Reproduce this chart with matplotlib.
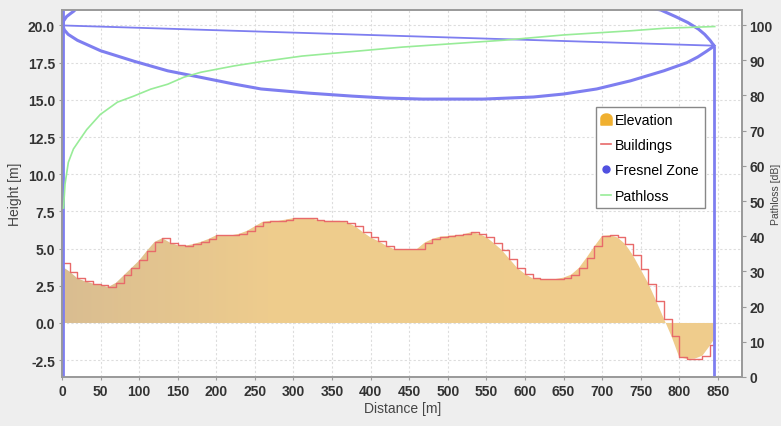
import matplotlib
matplotlib.use("Agg")
import matplotlib.pyplot as plt
import numpy as np
from matplotlib.colors import LinearSegmentedColormap
from matplotlib.lines import Line2D
from matplotlib.path import Path

plt.rcParams["font.family"] = ["Liberation Sans", "DejaVu Sans"]

# Terrain profile along the link, one sample every 10 m plus the far end
distance = list(range(0, 850, 10)) + [845]
elevation = [
    3.8, 3.45, 3.0, 2.8, 2.65, 2.55, 2.42, 2.7, 3.2, 3.7,
    4.2, 4.85, 5.45, 5.7, 5.4, 5.22, 5.2, 5.3, 5.45, 5.65,
    5.9, 5.9, 5.9, 6.0, 6.2, 6.5, 6.8, 6.87, 6.87, 6.95,
    7.05, 7.05, 7.05, 6.95, 6.87, 6.87, 6.87, 6.75, 6.5, 6.1,
    5.75, 5.5, 5.2, 4.97, 4.97, 4.97, 4.97, 5.4, 5.65, 5.8,
    5.85, 5.9, 5.95, 6.1, 6.0, 5.77, 5.35, 4.9, 4.3, 3.7,
    3.3, 3.0, 2.96, 2.96, 2.96, 3.05, 3.25, 3.7, 4.4, 5.15,
    5.85, 5.9, 5.75, 5.3, 4.55, 3.6, 2.65, 1.5, 0.3, -0.9,
    -2.3, -2.42, -2.4, -2.2, -1.5, -1.1,
]
buildings = [
    4.0, 3.45, 3.0, 2.8, 2.65, 2.55, 2.42, 2.7, 3.2, 3.7,
    4.2, 4.85, 5.45, 5.7, 5.4, 5.22, 5.2, 5.3, 5.45, 5.65,
    5.9, 5.9, 5.9, 6.0, 6.2, 6.5, 6.8, 6.87, 6.87, 6.95,
    7.05, 7.05, 7.05, 6.95, 6.87, 6.87, 6.87, 6.75, 6.5, 6.1,
    5.75, 5.5, 5.2, 4.97, 4.97, 4.97, 4.97, 5.4, 5.65, 5.8,
    5.85, 5.9, 5.95, 6.1, 6.0, 5.77, 5.35, 4.9, 4.3, 3.7,
    3.3, 3.0, 2.96, 2.96, 2.96, 3.05, 3.25, 3.7, 4.4, 5.15,
    5.85, 5.9, 5.75, 5.3, 4.55, 3.6, 2.65, 1.5, 0.3, -0.9,
    -2.3, -2.42, -2.4, -2.2, -1.5, -1.1,
]

# Antenna positions (distance, height)
tx_d, tx_h = 1, 20.0
rx_d, rx_h = 845, 18.64

# First Fresnel zone outline
fresnel_lower_d = [1, 3, 8, 20, 50, 93, 137, 180, 223, 258, 320, 376, 420,
                   467, 546, 611, 650, 693, 737, 780, 810, 824, 835, 842, 845]
fresnel_lower_h = [20.0, 19.7, 19.4, 19.0, 18.3, 17.6, 16.95, 16.51, 16.06,
                   15.73, 15.45, 15.25, 15.12, 15.05, 15.05, 15.19, 15.39,
                   15.73, 16.28, 16.95, 17.5, 17.88, 18.25, 18.5, 18.64]
fresnel_upper_tx_d = [1, 2, 6, 11, 15, 20]
fresnel_upper_tx_h = [20.0, 20.3, 20.6, 20.8, 20.95, 21.2]
fresnel_upper_rx_d = [760, 776, 795, 811, 825, 833, 840, 845]
fresnel_upper_rx_h = [21.2, 21.04, 20.6, 20.2, 19.75, 19.4, 19.0, 18.64]

# Path loss along the link [dB]
pathloss_d = [2, 3.9, 8.2, 14.8, 23.5, 32, 49.6, 71.8, 92.7, 115, 137, 158,
              180, 223, 255, 311, 441, 572, 650, 738, 781, 846]
pathloss_db = [48, 54.8, 61, 64.8, 67.6, 70.3, 74.6, 78.1, 79.8, 81.8, 83.2,
               85.2, 86.6, 88.4, 89.5, 91.2, 93.75, 95.7, 97.2, 98.4, 99.1, 99.6]

RED = "#e86a6a"
BLUE = "#7e7ef0"
GREEN = "#98ec98"
SPINE = "#999999"
X_MAX = 882
Y_MIN, Y_MAX = -3.63, 21.04

# terrain fill shades from tan near the transmitter to light orange
fill_cmap = LinearSegmentedColormap.from_list(
    "terrain_fill", [(0.0, "#d9bd91"), (0.3, "#eecc8d"), (1.0, "#f0cd8c")])


def bell_marker():
    # rounded-top block used as the area legend symbol
    t = np.linspace(0, np.pi, 12)
    top = np.column_stack([np.cos(t), 0.2 + np.sin(t) * 0.8])
    verts = np.vstack([[[1, -1]], top, [[-1, -1]], [[1, -1]]])
    codes = [Path.MOVETO] + [Path.LINETO] * (len(verts) - 2) + [Path.CLOSEPOLY]
    return Path(verts, codes)


fig = plt.figure(figsize=(7.81, 4.27), dpi=100, facecolor="#eeeeee")
ax = fig.add_axes([0.0794, 0.1148, 0.8713, 0.8595])
ax.set_facecolor("white")

area = ax.fill_between(distance, 0, elevation, facecolor="none", linewidth=0)
shade = ax.imshow(np.linspace(0, 1, 256)[None, :], cmap=fill_cmap,
                  extent=[0, X_MAX, Y_MIN, Y_MAX], aspect="auto", zorder=2)
shade.set_clip_path(area.get_paths()[0], ax.transData)
ax.step(distance, buildings, where="post", color=RED, lw=1.0, zorder=3)

# Fresnel zone, line of sight and masts
ax.plot(fresnel_lower_d, fresnel_lower_h, color=BLUE, lw=2.2, zorder=4)
ax.plot(fresnel_upper_tx_d, fresnel_upper_tx_h, color=BLUE, lw=2.2, zorder=4)
ax.plot(fresnel_upper_rx_d, fresnel_upper_rx_h, color=BLUE, lw=2.2, zorder=4)
ax.plot([tx_d, rx_d], [tx_h, rx_h], color=BLUE, lw=1.3, zorder=4)
ax.axvline(tx_d, color=BLUE, lw=2.0, zorder=4)
ax.vlines(rx_d, -10, rx_h, color=BLUE, lw=2.0, zorder=4)

ax.set_xlim(0, X_MAX)
ax.set_ylim(Y_MIN, Y_MAX)
ax.set_xticks(range(0, 851, 50))
ax.set_yticks(np.arange(-2.5, 20.1, 2.5))
ax.yaxis.set_major_formatter(matplotlib.ticker.FormatStrFormatter("%.1f"))
ax.grid(True, color="#dddddd", linestyle=(0, (2, 2)), linewidth=0.8, zorder=0)
ax.set_axisbelow(True)

for lab in ax.get_xticklabels() + ax.get_yticklabels():
    lab.set_fontweight("bold")
ax.tick_params(axis="both", labelsize=10, colors="#333333", length=2,
               color=SPINE, pad=3)
ax.set_xlabel("Distance [m]", fontsize=10, color="#444444", labelpad=2)
ax.set_ylabel("Height [m]", fontsize=10, color="#444444", labelpad=4)

ax2 = ax.twinx()
ax2.plot(pathloss_d, pathloss_db, color=GREEN, lw=1.2, zorder=5)
ax2.set_ylim(0, 104.3)
ax2.set_yticks(range(0, 101, 10))
for lab in ax2.get_yticklabels():
    lab.set_fontweight("bold")
ax2.tick_params(axis="y", labelsize=10, colors="#333333", length=3,
                color=SPINE, pad=2)
fig.text(0.9936, 0.5445, "Pathloss [dB]", rotation=90, fontsize=7.5,
         color="#444444", ha="center", va="center")

for a in (ax, ax2):
    for sp in a.spines.values():
        sp.set_color(SPINE)
        sp.set_linewidth(1.2)

handles = [
    Line2D([], [], ls="none", marker=bell_marker(), color="#f0b030", ms=8),
    Line2D([], [], color=RED, lw=1.2),
    Line2D([], [], ls="none", marker="o", color="#5050e0", ms=5),
    Line2D([], [], color=GREEN, lw=1.2),
]
labels = ["Elevation", "Buildings", "Fresnel Zone", "Pathloss"]
leg = ax2.legend(handles, labels, loc="upper left",
                 bbox_to_anchor=(0.784, 0.7357), borderaxespad=0,
                 fontsize=10.2, frameon=True, fancybox=False,
                 edgecolor="#888888", framealpha=1, handlelength=0.7,
                 handletextpad=0.3, labelspacing=0.8, borderpad=0.4)
leg.get_frame().set_linewidth(1.0)

fig.savefig("out.png", dpi=100, facecolor=fig.get_facecolor())
